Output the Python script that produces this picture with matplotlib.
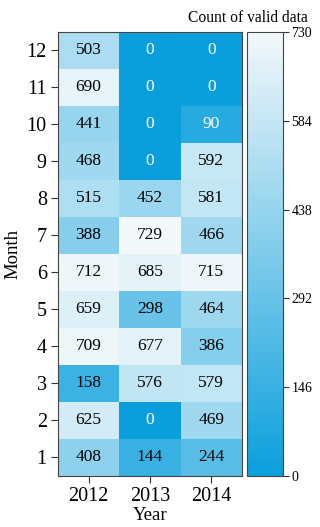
import numpy as np
import matplotlib
matplotlib.use('Agg')
import matplotlib.pyplot as plt
from matplotlib.colors import LinearSegmentedColormap

plt.rcParams['font.family'] = ['Liberation Serif', 'DejaVu Serif']

years = ['2012', '2013', '2014']
months = [str(m) for m in range(1, 13)]
# rows = months 1..12, cols = years
counts_2012 = [408, 625, 158, 709, 659, 712, 388, 515, 468, 441, 690, 503]
counts_2013 = [144, 0, 576, 677, 298, 685, 729, 452, 0, 0, 0, 0]
counts_2014 = [244, 469, 579, 386, 464, 715, 466, 581, 592, 90, 0, 0]
cbar_ticks = [0, 146, 292, 438, 584, 730]

data = np.array([counts_2012, counts_2013, counts_2014]).T

cmap = LinearSegmentedColormap.from_list('bw', ['#0a9fdc', '#f3f8fa'])

fig = plt.figure(figsize=(3.2, 5.27), dpi=100)
ax = fig.add_axes([0.181, 0.0968, 0.575, 0.8425])
cax = fig.add_axes([0.772, 0.0968, 0.1125, 0.8425])

mesh = ax.pcolormesh(np.arange(4), np.arange(13), data, cmap=cmap, vmin=0, vmax=730)
for i in range(data.shape[0]):
    for j in range(data.shape[1]):
        v = data[i, j]
        ax.text(j + 0.5, i + 0.5, str(v), ha='center', va='center', fontsize=12.5,
                color='white' if v < 120 else 'black')

ax.set_xticks(np.arange(3) + 0.5)
ax.set_xticklabels(years, fontsize=14.5)
ax.set_yticks(np.arange(12) + 0.5)
ax.set_yticklabels(months, fontsize=14.5)
ax.set_xlabel('Year', fontsize=13.5, labelpad=1)
ax.set_ylabel('Month', fontsize=13.5, labelpad=4)
ax.tick_params(length=5, color='#333333', pad=3)
for s in ax.spines.values():
    s.set_color('#444444')

cb = fig.colorbar(mesh, cax=cax, ticks=cbar_ticks)
cb.ax.tick_params(labelsize=10, length=4, color='#333333', pad=2)
cb.outline.set_edgecolor('#444444')
cax.set_title('Count of valid data', fontsize=11.2, loc='right', pad=7, x=1.68)

fig.savefig('out.png', dpi=100)
